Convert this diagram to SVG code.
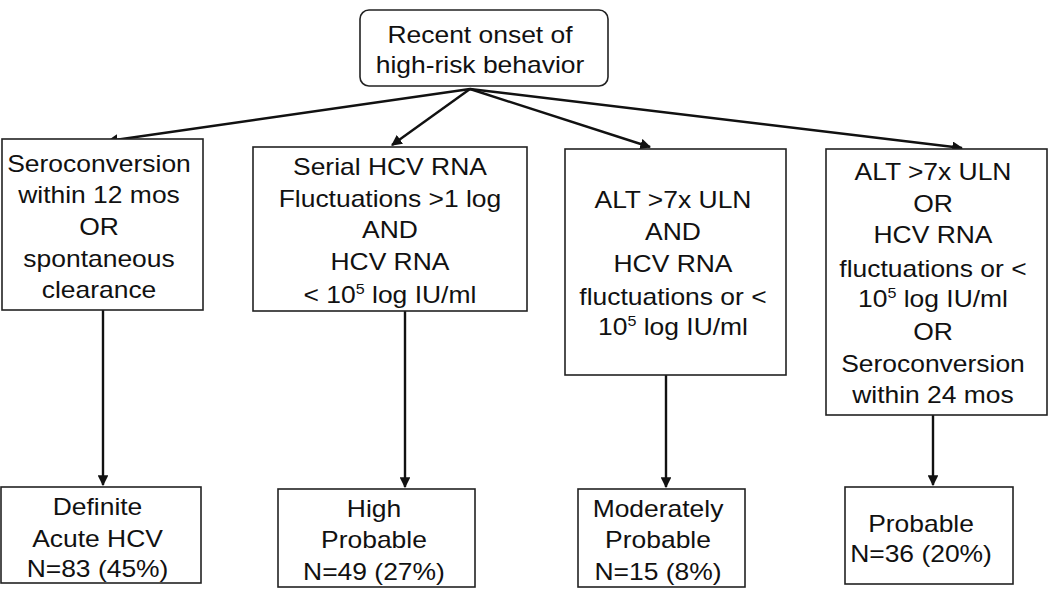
<svg xmlns="http://www.w3.org/2000/svg" width="1050" height="595" viewBox="0 0 1050 595">
<style>
.box{fill:#fff;stroke:#222;stroke-width:1.6}
.t{font-family:"Liberation Sans",Arial,sans-serif;font-size:23px;fill:#111;text-anchor:middle}
.sup{font-size:14px}
.c{stroke:#111;stroke-width:2.4;fill:none}
</style>
<defs>
<marker id="ah" viewBox="0 0 10 10" refX="9" refY="5" markerWidth="4.5" markerHeight="4.5" orient="auto" markerUnits="strokeWidth">
<path d="M0,0 L10,5 L0,10 z" fill="#111"/>
</marker>
</defs>
<rect width="1050" height="595" fill="#fff"/>
<g id="connectors">
<line class="c" x1="470" y1="89" x2="108" y2="141" marker-end="url(#ah)"/>
<line class="c" x1="470" y1="89" x2="392" y2="145" marker-end="url(#ah)"/>
<line class="c" x1="470" y1="89" x2="650" y2="147" marker-end="url(#ah)"/>
<line class="c" x1="470" y1="89" x2="962" y2="148" marker-end="url(#ah)"/>
<line class="c" x1="103" y1="310" x2="103" y2="485" marker-end="url(#ah)"/>
<line class="c" x1="405" y1="311" x2="405" y2="487" marker-end="url(#ah)"/>
<line class="c" x1="666" y1="375" x2="666" y2="487" marker-end="url(#ah)"/>
<line class="c" x1="933" y1="415" x2="933" y2="485" marker-end="url(#ah)"/>
</g>
<g id="root">
<rect class="box" x="360" y="10" width="248" height="76" rx="9"/>
<text class="t" transform="scale(1.15 1)"><tspan x="417.4" y="43">Recent onset of</tspan><tspan x="417.4" y="73">high-risk behavior</tspan></text>
</g>
<g id="c1">
<rect class="box" x="2" y="139" width="201" height="171"/>
<text class="t" transform="scale(1.15 1)"><tspan x="86.1" y="172">Seroconversion</tspan><tspan x="86.1" y="203">within 12 mos</tspan><tspan x="86.1" y="235">OR</tspan><tspan x="86.1" y="267">spontaneous</tspan><tspan x="86.1" y="298">clearance</tspan></text>
</g>
<g id="c2">
<rect class="box" x="253" y="147" width="274" height="164"/>
<text class="t" transform="scale(1.15 1)"><tspan x="339.1" y="175">Serial HCV RNA</tspan><tspan x="339.1" y="207">Fluctuations &gt;1 log</tspan><tspan x="339.1" y="238">AND</tspan><tspan x="339.1" y="270">HCV RNA</tspan><tspan x="339.1" y="303">&lt; 10<tspan class="sup" dy="-9">5</tspan><tspan dy="9"> log IU/ml</tspan></tspan></text>
</g>
<g id="c3">
<rect class="box" x="565" y="149" width="221" height="226"/>
<text class="t" transform="scale(1.15 1)"><tspan x="585.2" y="208">ALT &gt;7x ULN</tspan><tspan x="585.2" y="240">AND</tspan><tspan x="585.2" y="272">HCV RNA</tspan><tspan x="585.2" y="305">fluctuations or &lt;</tspan><tspan x="585.2" y="335">10<tspan class="sup" dy="-9">5</tspan><tspan dy="9"> log IU/ml</tspan></tspan></text>
</g>
<g id="c4">
<rect class="box" x="826" y="149" width="221" height="266"/>
<text class="t" transform="scale(1.15 1)"><tspan x="811.3" y="180">ALT &gt;7x ULN</tspan><tspan x="811.3" y="212">OR</tspan><tspan x="811.3" y="243">HCV RNA</tspan><tspan x="811.3" y="277">fluctuations or &lt;</tspan><tspan x="811.3" y="307">10<tspan class="sup" dy="-9">5</tspan><tspan dy="9"> log IU/ml</tspan></tspan><tspan x="811.3" y="340">OR</tspan><tspan x="811.3" y="372">Seroconversion</tspan><tspan x="811.3" y="403">within 24 mos</tspan></text>
</g>
<g id="o1">
<rect class="box" x="1" y="487" width="200" height="96"/>
<text class="t" transform="scale(1.15 1)"><tspan x="84.8" y="515">Definite</tspan><tspan x="84.8" y="547">Acute HCV</tspan><tspan x="84.8" y="577">N=83 (45%)</tspan></text>
</g>
<g id="o2">
<rect class="box" x="278" y="489" width="197" height="98"/>
<text class="t" transform="scale(1.15 1)"><tspan x="325.2" y="517">High</tspan><tspan x="325.2" y="548">Probable</tspan><tspan x="325.2" y="580">N=49 (27%)</tspan></text>
</g>
<g id="o3">
<rect class="box" x="578" y="489" width="167" height="98"/>
<text class="t" transform="scale(1.15 1)"><tspan x="572.2" y="517">Moderately</tspan><tspan x="572.2" y="548">Probable</tspan><tspan x="572.2" y="580">N=15 (8%)</tspan></text>
</g>
<g id="o4">
<rect class="box" x="845" y="487" width="168" height="97"/>
<text class="t" transform="scale(1.15 1)"><tspan x="800.9" y="532">Probable</tspan><tspan x="800.9" y="562">N=36 (20%)</tspan></text>
</g>
</svg>
